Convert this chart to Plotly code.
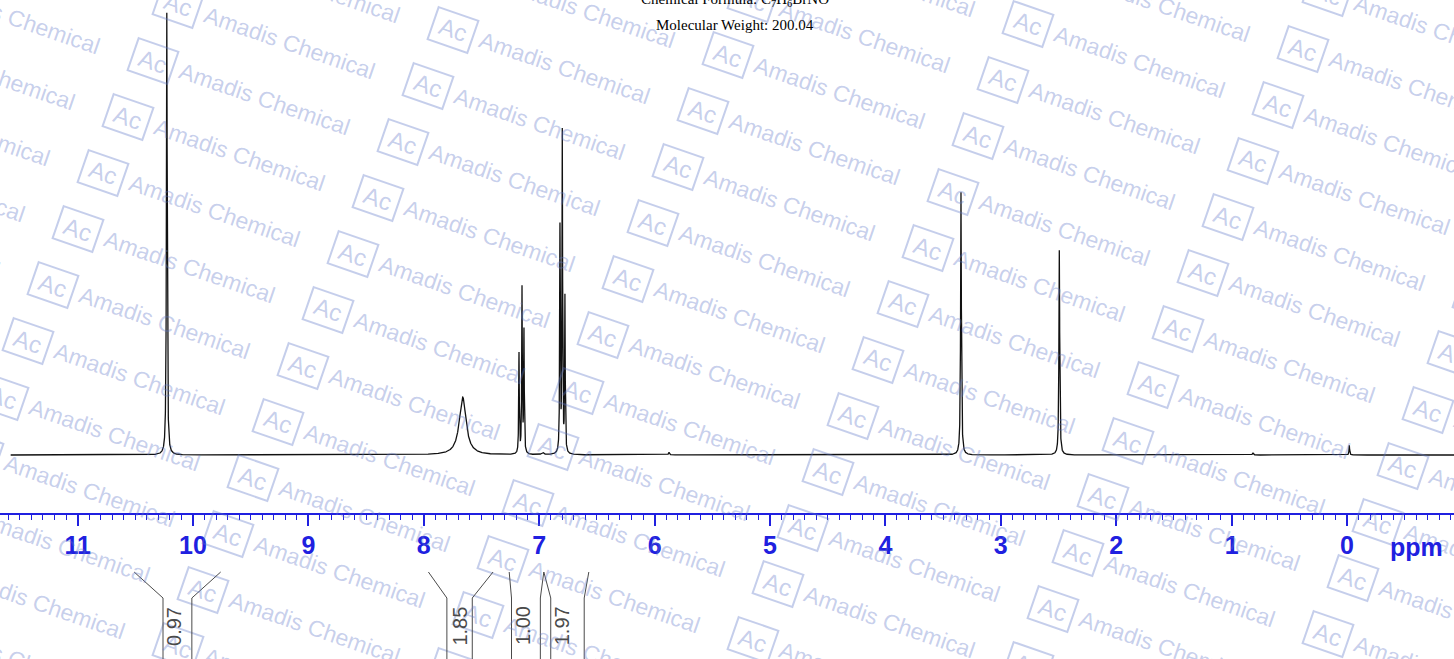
import numpy as np
import plotly.graph_objects as go

# ---------------- data ----------------
peak_ppm = [10.227, 7.663, 7.175, 7.149, 7.132, 6.820, 6.800, 6.777, 6.97, 5.875, 3.345, 2.493, 0.815, -0.02]
peak_height = [1.0, 0.131, 0.226, 0.372, 0.275, 0.508, 0.722, 0.35, 0.005, 0.006, 0.594, 0.463, 0.005, 0.022]
peak_hwhm = [0.004, 0.035, 0.003, 0.003, 0.003, 0.003, 0.003, 0.003, 0.01, 0.005, 0.004, 0.004, 0.005, 0.003]

integral_labels = ["0.97", "1.85", "1.00", "1.97"]
integral_start = [10.26, 7.80, 7.24, 6.90]
integral_end = [10.01, 7.58, 6.99, 6.61]
bracket_top_start = [10.51, 7.96, 7.26, 6.96]
bracket_top_end = [9.76, 7.40, 6.96, 6.57]
integral_label_ppm = [10.165, 7.69, 7.14, 6.80]

tick_values = list(range(0, 12))
tick_labels = [str(v) for v in tick_values]

title_lines = ["Chemical Formula: C<sub>7</sub>H<sub>6</sub>BrNO", "Molecular Weight: 200.04"]

# ---------------- geometry helpers (pixels of the 1454x659 page) ----------------
W, H = 1454, 659
def px(x):
    return x / W
def py(y):
    return 1 - y / H

# spectrum line from the peak list
grid = np.union1d(np.linspace(11.58, -0.93, 25001), np.array(peak_ppm))[::-1]
spec = np.zeros_like(grid)
for c, h, w in zip(peak_ppm, peak_height, peak_hwhm):
    spec += h / (1 + ((grid - c) / w) ** 2)

fig = go.Figure()
fig.add_trace(go.Scatter(x=grid, y=spec, mode="lines",
                         line=dict(color="#111111", width=1.3), hoverinfo="skip",
                         showlegend=False))

axis_px = 513
base_px = 455
top_px = 12.7
scale = (base_px - top_px)
ymin = -(axis_px - base_px) / scale
ymax = 1 + top_px / scale

blue = "#2020e0"
fig.update_layout(
    width=W, height=H,
    margin=dict(l=0, r=0, t=0, b=0),
    paper_bgcolor="white", plot_bgcolor="rgba(0,0,0,0)",
    xaxis=dict(range=[(1347 - 0) / 115.4, (1347 - W) / 115.4],
               showgrid=False, zeroline=False,
               showline=True, linecolor=blue, linewidth=1.5,
               ticks="outside", ticklen=11, tickwidth=1.5, tickcolor=blue,
               tickvals=tick_values, ticktext=tick_labels,
               tickfont=dict(family="Liberation Sans", size=25, color=blue, weight="bold"),
               minor=dict(dtick=0.1, ticks="outside", ticklen=5, tickwidth=1, tickcolor=blue,
                          showgrid=False),
               ticklabelstandoff=-2),
    yaxis=dict(range=[ymin, ymax], domain=[1 - axis_px / H, 1],
               visible=False, showgrid=False, zeroline=False),
)

annotations = []
shapes = []

# watermark
wm_col = "rgba(95,120,200,0.36)"
ang = np.deg2rad(19)
ux, uy = np.cos(ang), np.sin(ang)
vx, vy = -np.sin(ang), np.cos(ang)
for i in range(-1, 7):
    for j in range(-3, 14):
        cx = 178 + 275 * i - 25 * j
        cy = 5 + 25 * i + 56 * j
        if cx < -320 or cx > W + 40 or cy < -60 or cy > H + 40:
            continue
        annotations.append(dict(x=px(cx), y=py(cy), xref="paper", yref="paper",
                                text="Ac", showarrow=False, textangle=19,
                                xanchor="center", yanchor="middle",
                                font=dict(family="Liberation Sans", size=24, color=wm_col)))
        tx, ty = cx + 118 * ux, cy + 118 * uy
        annotations.append(dict(x=px(tx), y=py(ty), xref="paper", yref="paper",
                                text="Amadis Chemical", showarrow=False, textangle=19,
                                xanchor="center", yanchor="middle",
                                font=dict(family="Liberation Sans", size=23, color=wm_col)))
        hw, hh = 21, 17
        pts = []
        for sx, sy in [(-1, -1), (1, -1), (1, 1), (-1, 1)]:
            X = cx + sx * hw * ux + sy * hh * vx
            Y = cy + sx * hw * uy + sy * hh * vy
            pts.append((px(X), py(Y)))
        path = "M " + " L ".join(f"{a:.5f},{b:.5f}" for a, b in pts) + " Z"
        shapes.append(dict(type="path", path=path, xref="paper", yref="paper",
                           line=dict(color=wm_col, width=2), layer="above"))

# title
annotations.append(dict(x=px(735), y=py(0), xref="paper", yref="paper", text=title_lines[0],
                        showarrow=False, xanchor="center", yanchor="middle",
                        font=dict(family="Liberation Serif", size=15, color="black")))
annotations.append(dict(x=px(735), y=py(25), xref="paper", yref="paper", text=title_lines[1],
                        showarrow=False, xanchor="center", yanchor="middle",
                        font=dict(family="Liberation Serif", size=15, color="black")))

# axis unit
annotations.append(dict(x=px(1416), y=py(547), xref="paper", yref="paper", text="ppm",
                        showarrow=False, xanchor="center", yanchor="middle",
                        font=dict(family="Liberation Sans", size=25, color=blue, weight="bold")))

# integrals
gray = "#4a4a4a"
y_top, y_join, y_bot = py(572), py(598), py(H + 2)
for lab, s, e, ts, te, lp in zip(integral_labels, integral_start, integral_end,
                                  bracket_top_start, bracket_top_end, integral_label_ppm):
    for a, b in [(ts, s), (te, e)]:
        shapes.append(dict(type="line", xref="x", yref="paper", x0=a, x1=b, y0=y_top, y1=y_join,
                           line=dict(color=gray, width=1)))
        shapes.append(dict(type="line", xref="x", yref="paper", x0=b, x1=b, y0=y_join, y1=y_bot,
                           line=dict(color=gray, width=1)))
    annotations.append(dict(x=lp, y=py(626), xref="x", yref="paper", text=lab,
                            showarrow=False, textangle=-90, xanchor="center", yanchor="middle",
                            font=dict(family="Liberation Sans", size=20, color=gray)))

fig.update_layout(annotations=annotations, shapes=shapes)
fig.write_html("out.html", config={"displayModeBar": False},
               post_script="document.body.style.margin='0';document.body.style.overflow='hidden';")
